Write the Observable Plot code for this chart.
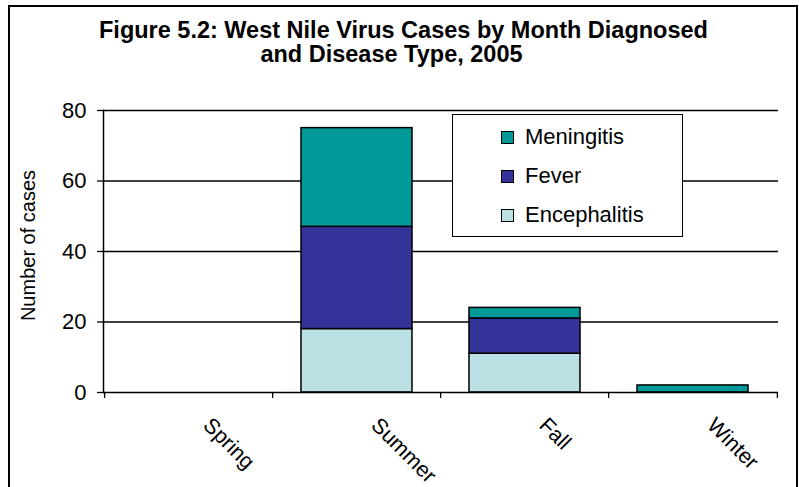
<!DOCTYPE html>
<html>
<head>
<meta charset="utf-8">
<script src="https://cdn.jsdelivr.net/npm/d3@7"></script>
<script src="https://cdn.jsdelivr.net/npm/@observablehq/plot@0.6"></script>
<style>
  html, body { margin: 0; padding: 0; background: #fff; }
  #wrap { position: relative; width: 799px; height: 487px; overflow: hidden; font-family: "Liberation Sans", Arial, sans-serif; }
  #border { position: absolute; left: 8px; top: 5px; height: 520px; border: 2px solid #000; box-sizing: border-box; width: 790px; }
  #title { position: absolute; left: 4px; top: 18px; width: 799px; line-height: 24px; text-align: center; font-weight: bold; font-size: 23.5px; color: #000; white-space: nowrap; }
  #title span { position: relative; left: -12px; }
  #chart { position: absolute; left: 0; top: 0; }
  #legend { position: absolute; left: 452px; top: 114px; width: 231px; height: 123px; border: 1.5px solid #000; background: #fff; box-sizing: border-box; }
  .item { position: absolute; left: 48px; font-size: 22px; line-height: 24px; height: 24px; }
  .sw { position: absolute; left: 0; top: 6px; width: 11px; height: 11px; border: 1.5px solid #000; }
  .lab { position: absolute; left: 24px; top: 0; white-space: nowrap; }
</style>
</head>
<body>
<div id="wrap">
  <div id="border"></div>
  <div id="chart"></div>
  <div id="title">Figure 5.2: West Nile Virus Cases by Month Diagnosed<br><span>and Disease Type, 2005</span></div>
  <div id="legend"></div>
</div>
<script>
const seasons = ["Spring", "Summer", "Fall", "Winter"];
const diseaseTypes = ["Encephalitis", "Fever", "Meningitis"]; // stacking order bottom → top
const encephalitis = [0, 18, 11, 0];
const fever = [0, 29, 10, 0];
const meningitis = [0, 28, 3, 2];
const legendOrder = ["Meningitis", "Fever", "Encephalitis"];
const colors = ["#bbe0e3", "#333399", "#009999"];
const yTicks = [0, 20, 40, 60, 80];
const yLabel = "Number of cases";

const seriesValues = [encephalitis, fever, meningitis];
const rows = [];
seasons.forEach((s, i) => {
  diseaseTypes.forEach((t, j) => {
    rows.push({season: s, type: t, count: seriesValues[j][i]});
  });
});

const W = 799, H = 487;
const mL = 103, mR = 21, mT = 110, mB = 95;
const step = (W - mL - mR) / seasons.length;

const chart = Plot.plot({
  width: W,
  height: H,
  marginLeft: mL,
  marginRight: mR,
  marginTop: mT,
  marginBottom: mB,
  style: {fontFamily: "'Liberation Sans', Arial, sans-serif", background: "transparent", color: "#000"},
  x: {domain: seasons, paddingInner: 0.34, paddingOuter: 0.17, axis: null},
  y: {domain: [0, 80], axis: null},
  color: {domain: diseaseTypes, range: colors},
  marks: [
    Plot.gridY(yTicks.filter(d => d > 0), {stroke: "#000", strokeOpacity: 1, strokeWidth: 1.3}),
    Plot.barY(rows.filter(d => d.count > 0), {
      x: "season", y: "count", fill: "type", stroke: "#000", strokeWidth: 1.5, order: null
    }),
    Plot.frame({anchor: "left", stroke: "#000", strokeWidth: 1.5}),
    Plot.ruleY([0], {stroke: "#000", strokeWidth: 1.5}),
    Plot.axisY({ticks: yTicks, tickSize: 6, tickPadding: 11, fontSize: 22, label: null, strokeWidth: 1.3}),
    Plot.ruleX(seasons, {x: d => d, y1: 0, y2: 0, dx: -step / 2, insetBottom: -6, stroke: "#000", strokeWidth: 1.3}),
    Plot.ruleX(seasons.slice(-1), {x: d => d, y1: 0, y2: 0, dx: step / 2, insetBottom: -6, stroke: "#000", strokeWidth: 1.3}),
    Plot.text(seasons, {x: d => d, text: d => d, frameAnchor: "bottom", rotate: 45, textAnchor: "start", lineAnchor: "bottom", dx: 13, dy: 34, fontSize: 21.5}),
    Plot.text([yLabel], {frameAnchor: "left", rotate: -90, textAnchor: "middle", dx: -75, dy: -6, fontSize: 20})
  ]
});
document.getElementById("chart").appendChild(chart);

const legend = document.getElementById("legend");
legendOrder.forEach((t, i) => {
  const item = document.createElement("div");
  item.className = "item";
  item.style.top = (10 + i * 39) + "px";
  const sw = document.createElement("div");
  sw.className = "sw";
  sw.style.background = colors[diseaseTypes.indexOf(t)];
  const lab = document.createElement("div");
  lab.className = "lab";
  lab.textContent = t;
  item.appendChild(sw);
  item.appendChild(lab);
  legend.appendChild(item);
});
</script>
</body>
</html>
